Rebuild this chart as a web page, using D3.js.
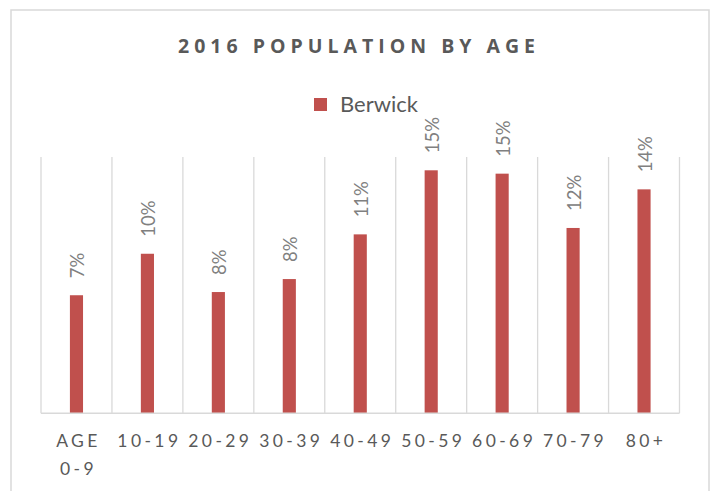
<!DOCTYPE html>
<html>
<head>
<meta charset="utf-8">
<script src="https://cdn.jsdelivr.net/npm/d3@7"></script>
<style>
  html, body { margin: 0; padding: 0; background: #fff; }
  svg { display: block; }
</style>
</head>
<body>
<svg id="chart" width="715" height="491"></svg>
<script>
const categories = ["AGE 0-9", "10-19", "20-29", "30-39", "40-49", "50-59", "60-69", "70-79", "80+"];
const berwick = [0.0737, 0.0996, 0.0757, 0.0838, 0.1117, 0.1517, 0.1496, 0.1157, 0.1398];
const seriesName = "Berwick";
const chartTitle = "2016 POPULATION BY AGE";
const yDomain = [0, 0.16];

const svg = d3.select("#chart");
const FONT = "Lato, 'Open Sans', sans-serif";

// chart area border
svg.append("rect")
  .attr("x", 11).attr("y", 10)
  .attr("width", 698).attr("height", 500)
  .attr("fill", "#fff")
  .attr("stroke", "#d9d9d9").attr("stroke-width", 1.5);

const plot = { left: 41, right: 679.5, top: 157, bottom: 413.3 };

const x = d3.scaleBand().domain(categories).range([plot.left, plot.right]).padding(0);
const y = d3.scaleLinear().domain(yDomain).range([plot.bottom, plot.top]);
const barW = x.bandwidth() * 0.185;

// title
svg.append("text")
  .attr("x", 356.5).attr("y", 52.5)
  .attr("text-anchor", "middle")
  .attr("font-family", "'Open Sans', Lato, sans-serif")
  .attr("font-weight", "bold")
  .attr("font-size", 19.5)
  .attr("fill", "#595959")
  .attr("textLength", 357)
  .attr("lengthAdjust", "spacing")
  .text(chartTitle);

// legend
const lg = svg.append("g");
lg.append("rect")
  .attr("x", 314).attr("y", 98)
  .attr("width", 13).attr("height", 13)
  .attr("fill", "#c0504d");
lg.append("text")
  .attr("x", 340).attr("y", 111.5)
  .attr("font-family", FONT)
  .attr("font-size", 22)
  .attr("fill", "#595959")
  .text(seriesName);

// vertical category gridlines
const edges = categories.map(c => x(c)).concat([plot.right]);
svg.append("g").selectAll("line").data(edges).join("line")
  .attr("x1", d => d).attr("x2", d => d)
  .attr("y1", plot.top).attr("y2", plot.bottom)
  .attr("stroke", "#d9d9d9").attr("stroke-width", 1.3);

// bars
svg.append("g").selectAll("rect").data(berwick).join("rect")
  .attr("x", (d, i) => x(categories[i]) + (x.bandwidth() - barW) / 2)
  .attr("y", d => y(d))
  .attr("width", barW)
  .attr("height", d => y(0) - y(d))
  .attr("fill", "#c0504d");

// baseline axis
svg.append("line")
  .attr("x1", plot.left).attr("x2", plot.right)
  .attr("y1", plot.bottom).attr("y2", plot.bottom)
  .attr("stroke", "#d9d9d9").attr("stroke-width", 1.5);

// data labels (rotated)
const fmt = d3.format(".0%");
svg.append("g").selectAll("text").data(berwick).join("text")
  .attr("transform", (d, i) => {
    const cx = x(categories[i]) + x.bandwidth() / 2 + 1;
    const cy = y(d) - 17;
    return `translate(${cx},${cy}) rotate(-90)`;
  })
  .attr("text-anchor", "start")
  .attr("dy", "0.36em")
  .attr("font-family", FONT)
  .attr("font-size", 18.5)
  .attr("fill", "#808080")
  .text(d => fmt(d));

// x labels with wrapping
const xl = svg.append("g");
categories.forEach(c => {
  const cx = x(c) + x.bandwidth() / 2;
  const parts = c.split(" ");
  parts.forEach((p, j) => {
    xl.append("text")
      .attr("x", cx + 2)
      .attr("y", 446.5 + j * 28.5)
      .attr("text-anchor", "middle")
      .attr("font-family", FONT)
      .attr("font-size", 17.5)
      .attr("letter-spacing", "3.4px")
      .attr("fill", "#595959")
      .text(p);
  });
});
</script>
</body>
</html>
